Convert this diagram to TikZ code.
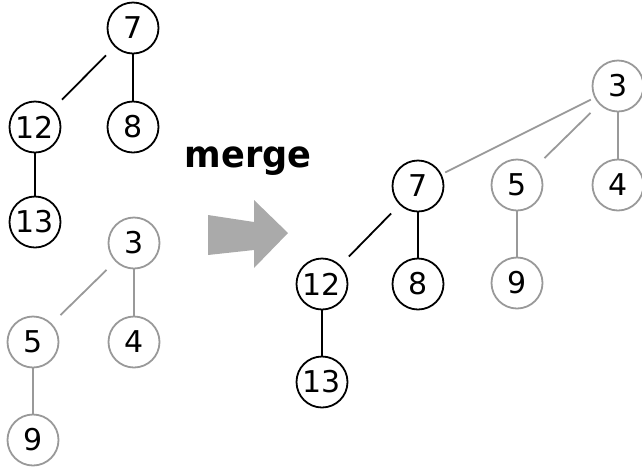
\documentclass[tikz,border=0pt]{standalone}
\usepackage{fontspec}
\setmainfont{DejaVu Sans}
\definecolor{gcol}{RGB}{153,153,153}
\definecolor{acol}{RGB}{170,170,170}
\begin{document}
\begin{tikzpicture}[x=1pt,y=-1pt,
  nd/.style={circle,draw=black,line width=1.8pt,minimum size=51pt,inner sep=0pt,font=\fontsize{30}{32}\selectfont},
  gnd/.style={nd,draw=gcol},
  ed/.style={line width=1.8pt,draw=black},
  ged/.style={line width=1.8pt,draw=gcol},
  diag/.style={shorten <=12pt,shorten >=12pt}]
\useasboundingbox (0,0) rectangle (642,467);
% left top tree
\node[nd] (a7) at (133,28) {7};
\node[nd] (a12) at (35,127) {12};
\node[nd] (a8) at (133,127) {8};
\node[nd] (a13) at (35,222) {13};
\draw[ed,diag] (a7) -- (a12);
\draw[ed] (a7) -- (a8);
\draw[ed] (a12) -- (a13);
% left bottom tree
\node[gnd] (b3) at (134,243) {3};
\node[gnd] (b5) at (33,342) {5};
\node[gnd] (b4) at (134,342) {4};
\node[gnd] (b9) at (33,440) {9};
\draw[ged,diag] (b3) -- (b5);
\draw[ged] (b3) -- (b4);
\draw[ged] (b5) -- (b9);
% merge label and arrow
\node[anchor=base,font=\bfseries\fontsize{37}{40}\selectfont,inner sep=0pt,xscale=0.95] (lbl) at (248,167) {merge};
\fill[acol] (208,215) -- (254,222) -- (254,200) -- (288,233) -- (254,268) -- (254,250) -- (208,255) -- cycle;
% right tree
\node[gnd] (r3) at (618,86) {3};
\node[nd] (r7) at (418,186) {7};
\node[gnd] (r5) at (517,185) {5};
\node[gnd] (r4) at (618,185) {4};
\node[nd] (r12) at (322,284) {12};
\node[nd] (r8) at (418,284) {8};
\node[gnd] (r9) at (517,283) {9};
\node[nd] (r13) at (322,382) {13};
\draw[ged,shorten <=4pt,shorten >=4pt] (r3) -- (r7);
\draw[ged,diag] (r3) -- (r5);
\draw[ged] (r3) -- (r4);
\draw[ged] (r5) -- (r9);
\draw[ed,diag] (r7) -- (r12);
\draw[ed] (r7) -- (r8);
\draw[ed] (r12) -- (r13);
\end{tikzpicture}
\end{document}
